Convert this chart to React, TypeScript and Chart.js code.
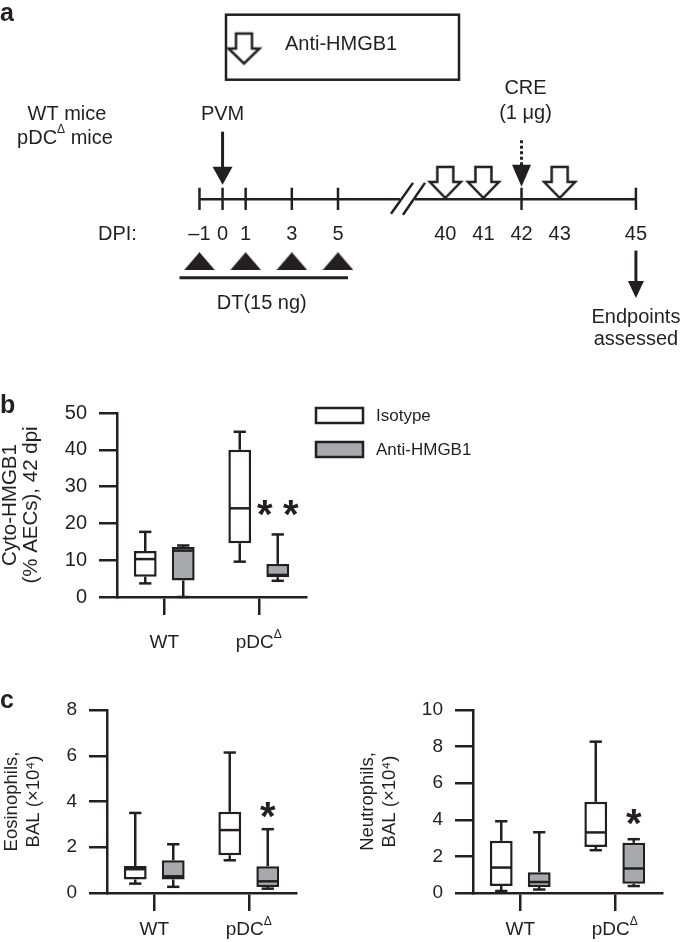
import React, { useEffect, useRef } from 'react';
import { Chart, registerables } from 'chart.js';

Chart.register(...registerables);

const FONT = '"Liberation Sans", Arial, Helvetica, sans-serif';
const INK = '#231f20';
const GRAY = '#a7a9ac';

// ---------------- data: panel a (timeline schematic) ----------------
const DPI_TICK_DAYS = [-1, 0, 1, 3, 5, 42, 45];
const DPI_LABEL_DAYS = [-1, 0, 1, 3, 5, 40, 41, 42, 43, 45];
const DPI_LABELS = ['\u20131', '0', '1', '3', '5', '40', '41', '42', '43', '45'];
const DT_DAYS = [-1, 1, 3, 5];
const ANTI_DAYS = [40, 41, 43];
const PVM_DAY = 0;
const CRE_DAY = 42;
const END_DAY = 45;
const BREAK_DAY = 20;

// ---------------- data: panels b / c (box plots: min, Q1, median, Q3, max) ----------------
const GROUPS = ['WT', 'pDC\u0394'];
const SERIES = ['Isotype', 'Anti-HMGB1'];

const HMGB_ISOTYPE = [
  [3.7, 5.5, 10.3, 12.5, 17.7],
  [9.6, 14.6, 24.1, 40.0, 44.9],
];
const HMGB_ANTI = [
  [0.0, 4.5, 12.6, 13.6, 14.0],
  [4.4, 5.4, 6.0, 9.0, 17.0],
];
const HMGB_SIG = ['', '**'];

const EOS_ISOTYPE = [
  [0.41, 0.59, 1.04, 1.18, 3.5],
  [1.43, 1.65, 2.75, 3.55, 6.14],
];
const EOS_ANTI = [
  [0.27, 0.59, 0.73, 1.43, 2.13],
  [0.19, 0.26, 0.51, 1.17, 2.79],
];
const EOS_SIG = ['', '*'];

const NEU_ISOTYPE = [
  [0.11, 0.38, 1.39, 2.85, 3.92],
  [2.34, 2.52, 3.31, 4.98, 8.27],
];
const NEU_ANTI = [
  [0.19, 0.33, 0.6, 1.13, 3.32],
  [0.38, 0.51, 1.34, 2.74, 2.94],
];
const NEU_SIG = ['', '*'];

// ---------------- helpers ----------------
function drawText(ctx: CanvasRenderingContext2D, t: string, x: number, y: number, size: number, align: CanvasTextAlign = 'center', weight = 'normal') {
  ctx.font = `${weight} ${size}px ${FONT}`;
  ctx.textAlign = align;
  ctx.textBaseline = 'middle';
  ctx.fillText(t, x, y);
}

function splitDelta(label: string): Array<[string, boolean]> {
  const i = label.indexOf('\u0394');
  if (i < 0) return [[label, false]];
  const parts: Array<[string, boolean]> = [[label.slice(0, i), false], ['\u0394', true], [label.slice(i + 1), false]];
  return parts.filter((p) => p[0].length > 0);
}

function drawRich(ctx: CanvasRenderingContext2D, parts: Array<[string, boolean]>, x: number, y: number, size: number, align: 'left' | 'center' = 'center') {
  const supSize = Math.round(size * 0.62);
  const widths = parts.map(([t, sup]) => {
    ctx.font = `normal ${sup ? supSize : size}px ${FONT}`;
    return ctx.measureText(t).width;
  });
  const total = widths.reduce((a, b) => a + b, 0);
  let cur = align === 'center' ? x - total / 2 : x;
  ctx.textAlign = 'left';
  ctx.textBaseline = 'middle';
  parts.forEach(([t, sup], i) => {
    ctx.font = `normal ${sup ? supSize : size}px ${FONT}`;
    ctx.fillText(t, cur, sup ? y - size * 0.42 : y);
    cur += widths[i];
  });
}

function solidArrow(ctx: CanvasRenderingContext2D, x: number, y0: number, y1: number, headLen: number, headW: number, dashed = false) {
  ctx.save();
  ctx.lineWidth = 3;
  if (dashed) ctx.setLineDash([3, 2.5]);
  ctx.beginPath();
  ctx.moveTo(x, y0);
  ctx.lineTo(x, y1 - headLen + 1);
  ctx.stroke();
  ctx.setLineDash([]);
  ctx.beginPath();
  ctx.moveTo(x - headW / 2, y1 - headLen);
  ctx.lineTo(x + headW / 2, y1 - headLen);
  ctx.lineTo(x, y1);
  ctx.closePath();
  ctx.fill();
  ctx.restore();
}

function openArrowSprite(w = 31, h = 31, shaft = 16, head = 16) {
  const pad = 4;
  const c = document.createElement('canvas');
  c.width = w + pad * 2;
  c.height = h + pad * 2;
  const g = c.getContext('2d')!;
  g.translate(pad, pad);
  const cx = w / 2;
  g.beginPath();
  g.moveTo(cx - shaft / 2, 0);
  g.lineTo(cx + shaft / 2, 0);
  g.lineTo(cx + shaft / 2, h - head);
  g.lineTo(w, h - head);
  g.lineTo(cx, h);
  g.lineTo(0, h - head);
  g.lineTo(cx - shaft / 2, h - head);
  g.closePath();
  g.fillStyle = '#ffffff';
  g.fill();
  g.lineWidth = 2.5;
  g.lineJoin = 'miter';
  g.strokeStyle = INK;
  g.stroke();
  return c;
}

function triangleSprite(w = 31, h = 18) {
  const c = document.createElement('canvas');
  c.width = w;
  c.height = h;
  const g = c.getContext('2d')!;
  g.fillStyle = INK;
  g.beginPath();
  g.moveTo(w / 2, 0);
  g.lineTo(w, h);
  g.lineTo(0, h);
  g.closePath();
  g.fill();
  return c;
}

// ---------------- panel a plugin ----------------
const A_FONT = 20;

const timelinePlugin = {
  id: 'timelineDraw',
  beforeDatasetsDraw(chart: any) {
    const ctx: CanvasRenderingContext2D = chart.ctx;
    const sx = chart.scales.x;
    const sl = chart.scales.xLate;
    const sy = chart.scales.y;
    const X = (d: number) => (d < BREAK_DAY ? sx : sl).getPixelForValue(d);
    const Y = (v: number) => sy.getPixelForValue(v);
    ctx.save();
    ctx.strokeStyle = INK;
    ctx.fillStyle = INK;
    ctx.lineCap = 'butt';

    // panel letter
    ctx.font = `bold 25px ${FONT}`;
    ctx.textAlign = 'left';
    ctx.textBaseline = 'alphabetic';
    ctx.fillText('a', 0, Y(16));

    // treatment legend box
    ctx.lineWidth = 2.5;
    ctx.strokeRect(226, Y(9), 233, 65);
    const spr = openArrowSprite(31, 30, 16, 15);
    ctx.drawImage(spr, 244 - spr.width / 2, Y(44) - spr.height / 2);
    drawText(ctx, SERIES[1], 285, Y(40), A_FONT, 'left');

    // mouse strains
    drawText(ctx, 'WT mice', 67, Y(112), A_FONT);
    drawRich(ctx, splitDelta('pDC\u0394 mice'), 65, Y(137), A_FONT, 'center');

    // timeline with break
    const breakL = X(5) + 62;
    ctx.lineWidth = 2.5;
    ctx.beginPath();
    ctx.moveTo(X(-1), Y(200));
    ctx.lineTo(breakL, Y(200));
    ctx.moveTo(breakL + 15, Y(200));
    ctx.lineTo(X(END_DAY), Y(200));
    ctx.stroke();
    ctx.beginPath();
    ctx.moveTo(breakL - 9, Y(215));
    ctx.lineTo(breakL + 13, Y(183));
    ctx.moveTo(breakL + 3, Y(216));
    ctx.lineTo(breakL + 25, Y(183));
    ctx.stroke();

    DPI_TICK_DAYS.forEach((d) => {
      ctx.beginPath();
      ctx.moveTo(X(d), Y(188));
      ctx.lineTo(X(d), Y(211));
      ctx.stroke();
    });

    drawText(ctx, 'DPI:', 98, Y(236), A_FONT, 'left');
    DPI_LABEL_DAYS.forEach((d, i) => drawText(ctx, DPI_LABELS[i], X(d), Y(236), A_FONT));

    // DT bar + text
    ctx.lineWidth = 3;
    const dtL = X(DT_DAYS[0]) - 20;
    const dtR = X(DT_DAYS[DT_DAYS.length - 1]) + 10;
    ctx.beginPath();
    ctx.moveTo(dtL, Y(281));
    ctx.lineTo(dtR, Y(281));
    ctx.stroke();
    drawText(ctx, 'DT(15 ng)', (dtL + dtR) / 2 - 2, Y(308), A_FONT);

    // PVM
    drawText(ctx, 'PVM', X(PVM_DAY), Y(112), A_FONT);
    solidArrow(ctx, X(PVM_DAY), Y(130), Y(185), 18, 20);

    // CRE
    drawText(ctx, 'CRE', X(CRE_DAY) + 4, Y(85), A_FONT);
    drawText(ctx, '(1 \u03bcg)', X(CRE_DAY) + 4, Y(111), A_FONT);
    solidArrow(ctx, X(CRE_DAY), Y(139), Y(187), 22, 19, true);

    // endpoints
    solidArrow(ctx, X(END_DAY), Y(253), Y(302), 17, 16);
    drawText(ctx, 'Endpoints', X(END_DAY), Y(322), A_FONT);
    drawText(ctx, 'assessed', X(END_DAY), Y(345), A_FONT);

    ctx.restore();
  },
};

function Timeline() {
  const ref = useRef<HTMLCanvasElement>(null);
  useEffect(() => {
    const chart = new Chart(ref.current!, {
      type: 'scatter',
      data: {
        datasets: [
          {
            label: 'DT',
            data: DT_DAYS.map((d) => ({ x: d, y: 264 })),
            xAxisID: 'x',
            yAxisID: 'y',
            pointStyle: triangleSprite(31, 18) as any,
            pointRadius: 5,
          },
          {
            label: SERIES[1],
            data: ANTI_DAYS.map((d) => ({ x: d, y: 182.5 })),
            xAxisID: 'xLate',
            yAxisID: 'y',
            pointStyle: openArrowSprite(31, 31, 16, 16) as any,
            pointRadius: 5,
          },
        ],
      },
      options: {
        responsive: false,
        animation: false,
        devicePixelRatio: 1,
        layout: { padding: 0 },
        plugins: { legend: { display: false }, tooltip: { enabled: false } },
        scales: {
          x: { type: 'linear', display: false, min: -9.38, max: 19.77 },
          xLate: { type: 'linear', axis: 'x', position: 'bottom', display: false, min: 28.48, max: 46.13 } as any,
          y: { type: 'linear', display: false, min: 0, max: 360, reverse: true },
        },
      },
      plugins: [timelinePlugin],
    } as any);
    return () => chart.destroy();
  }, []);
  return <canvas ref={ref} width={685} height={360} style={{ position: 'absolute', left: 0, top: 0, width: 685, height: 360 }} />;
}

// ---------------- box plot plugins ----------------
const boxPlugin = {
  id: 'boxWhiskers',
  afterDatasetsDraw(chart: any, _a: any, o: any) {
    const ctx: CanvasRenderingContext2D = chart.ctx;
    const ys = chart.scales.y;
    ctx.save();
    ctx.strokeStyle = INK;
    ctx.fillStyle = INK;
    ctx.lineWidth = 2.5;
    ctx.lineCap = 'butt';
    const line = (x1: number, y1: number, x2: number, y2: number) => {
      ctx.beginPath();
      ctx.moveTo(x1, y1);
      ctx.lineTo(x2, y2);
      ctx.stroke();
    };
    chart.data.datasets.forEach((ds: any, i: number) => {
      const meta = chart.getDatasetMeta(i);
      meta.data.forEach((el: any, j: number) => {
        const [mn, q1, md, q3, mx] = ds.stats[j];
        const half = el.width / 2;
        const cap = el.width * 0.27;
        const pMin = ys.getPixelForValue(mn);
        const pQ1 = ys.getPixelForValue(q1);
        const pMd = ys.getPixelForValue(md);
        const pQ3 = ys.getPixelForValue(q3);
        const pMx = ys.getPixelForValue(mx);
        line(el.x - half + 1, pMd, el.x + half - 1, pMd);
        line(el.x, pQ3, el.x, pMx);
        line(el.x - cap, pMx, el.x + cap, pMx);
        line(el.x, pQ1, el.x, pMin);
        line(el.x - cap, pMin, el.x + cap, pMin);
        const sig: string = (ds.sig && ds.sig[j]) || '';
        if (sig) {
          ctx.font = `bold 40px ${FONT}`;
          ctx.textAlign = 'center';
          ctx.textBaseline = 'alphabetic';
          const m = ctx.measureText('*');
          const cy = pMx - o.sigOffset;
          const base = cy + (m.actualBoundingBoxAscent - m.actualBoundingBoxDescent) / 2;
          const n = sig.length;
          for (let k = 0; k < n; k++) {
            ctx.fillText('*', el.x + (k - (n - 1) / 2) * o.sigSpacing, base);
          }
        }
      });
    });
    ctx.restore();
  },
};

const catLabelPlugin = {
  id: 'catLabels',
  afterDraw(chart: any, _a: any, o: any) {
    const ctx: CanvasRenderingContext2D = chart.ctx;
    const xs = chart.scales.x;
    ctx.save();
    ctx.fillStyle = INK;
    (chart.data.labels as string[]).forEach((lab, i) => {
      drawRich(ctx, splitDelta(lab), xs.getPixelForTick(i), o.y, o.size, 'center');
    });
    if (o.panel) {
      ctx.font = `bold 25px ${FONT}`;
      ctx.textAlign = 'left';
      ctx.textBaseline = 'alphabetic';
      ctx.fillText(o.panel, 0, o.panelY);
    }
    ctx.restore();
  },
};

const boxLegendPlugin = {
  id: 'boxLegend',
  afterDraw(chart: any, _a: any, o: any) {
    if (!o || !o.show) return;
    const ctx: CanvasRenderingContext2D = chart.ctx;
    ctx.save();
    chart.data.datasets.forEach((ds: any, i: number) => {
      const y = o.y + i * o.gap;
      ctx.fillStyle = ds.backgroundColor;
      ctx.fillRect(o.x, y, 47, 15);
      ctx.strokeStyle = INK;
      ctx.lineWidth = 2.5;
      ctx.strokeRect(o.x, y, 47, 15);
      ctx.fillStyle = INK;
      drawText(ctx, ds.label, o.x + 60, y + 8, 17, 'left');
    });
    ctx.restore();
  },
};

type BoxProps = {
  left: number;
  top: number;
  w: number;
  h: number;
  axisX: number;
  plotRight: number;
  plotTop: number;
  plotBottom: number;
  yMax: number;
  yStep: number;
  tickSize: number;
  title: string[];
  titleSize: number;
  titleLH: number;
  titlePad: number;
  iso: number[][];
  anti: number[][];
  sig: string[];
  sigOffset: number;
  labelY: number;
  panel?: string;
  panelY?: number;
  legend?: boolean;
};

function BoxChart(p: BoxProps) {
  const ref = useRef<HTMLCanvasElement>(null);
  useEffect(() => {
    const common = {
      borderColor: INK,
      borderWidth: 2.5,
      borderSkipped: false,
      categoryPercentage: 0.804,
      barPercentage: 0.6,
    };
    const chart = new Chart(ref.current!, {
      type: 'bar',
      data: {
        labels: GROUPS,
        datasets: [
          { ...common, label: SERIES[0], data: p.iso.map((s) => [s[1], s[3]]), stats: p.iso, sig: [], backgroundColor: '#ffffff' },
          { ...common, label: SERIES[1], data: p.anti.map((s) => [s[1], s[3]]), stats: p.anti, sig: p.sig, backgroundColor: GRAY },
        ],
      },
      options: {
        responsive: false,
        animation: false,
        devicePixelRatio: 1,
        layout: { padding: { left: 0, top: p.plotTop, right: p.w - p.plotRight, bottom: 0 } },
        plugins: {
          legend: { display: false },
          tooltip: { enabled: false },
          boxWhiskers: { sigOffset: p.sigOffset, sigSpacing: 26 },
          catLabels: { y: p.labelY, size: 19, panel: p.panel || '', panelY: p.panelY || 0 },
          boxLegend: { show: !!p.legend, x: 316, y: 38, gap: 34 },
        },
        scales: {
          x: {
            type: 'category',
            offset: true,
            grid: { display: true, offset: false, drawOnChartArea: false, drawTicks: true, tickLength: 18, lineWidth: 2.5, color: INK },
            border: { display: true, color: INK, width: 2.5 },
            ticks: { display: false },
            afterFit: (s: any) => {
              s.height = p.h - p.plotBottom;
            },
          },
          y: {
            type: 'linear',
            min: 0,
            max: p.yMax,
            ticks: { stepSize: p.yStep, color: INK, font: { family: FONT, size: p.tickSize }, padding: 12 },
            grid: { display: true, drawOnChartArea: false, drawTicks: true, tickLength: 18, lineWidth: 2.5, color: INK },
            border: { display: true, color: INK, width: 2.5 },
            title: {
              display: true,
              text: p.title,
              color: INK,
              font: { family: FONT, size: p.titleSize, lineHeight: p.titleLH },
              padding: { top: p.titlePad, bottom: 0 },
            },
            afterFit: (s: any) => {
              s.width = p.axisX;
            },
          },
        },
      },
      plugins: [boxPlugin, catLabelPlugin, boxLegendPlugin],
    } as any);
    return () => chart.destroy();
  }, []);
  return <canvas ref={ref} width={p.w} height={p.h} style={{ position: 'absolute', left: p.left, top: p.top, width: p.w, height: p.h }} />;
}

export default function App() {
  return (
    <div style={{ position: 'absolute', left: 0, top: 0, width: 685, height: 942, background: '#ffffff', overflow: 'hidden' }}>
      <Timeline />
      <BoxChart
        left={0}
        top={370}
        w={685}
        h={290}
        axisX={117}
        plotRight={306}
        plotTop={43}
        plotBottom={227}
        yMax={50}
        yStep={10}
        tickSize={20}
        title={['Cyto-HMGB1', '(% AECs), 42 dpi']}
        titleSize={20.5}
        titleLH={1.03}
        titlePad={0}
        iso={HMGB_ISOTYPE}
        anti={HMGB_ANTI}
        sig={HMGB_SIG}
        sigOffset={26}
        labelY={273}
        panel="b"
        panelY={43}
        legend
      />
      <BoxChart
        left={0}
        top={660}
        w={342}
        h={282}
        axisX={107}
        plotRight={296}
        plotTop={50}
        plotBottom={233}
        yMax={8}
        yStep={2}
        tickSize={19}
        title={['Eosinophils,', 'BAL (\u00d710\u2074)']}
        titleSize={18.5}
        titleLH={1.18}
        titlePad={1}
        iso={EOS_ISOTYPE}
        anti={EOS_ANTI}
        sig={EOS_SIG}
        sigOffset={19}
        labelY={270}
        panel="c"
        panelY={48}
      />
      <BoxChart
        left={342}
        top={660}
        w={343}
        h={282}
        axisX={131}
        plotRight={320}
        plotTop={50}
        plotBottom={233}
        yMax={10}
        yStep={2}
        tickSize={19}
        title={['Neutrophils,', 'BAL (\u00d710\u2074)']}
        titleSize={18.5}
        titleLH={1.18}
        titlePad={15}
        iso={NEU_ISOTYPE}
        anti={NEU_ANTI}
        sig={NEU_SIG}
        sigOffset={22}
        labelY={270}
      />
    </div>
  );
}
